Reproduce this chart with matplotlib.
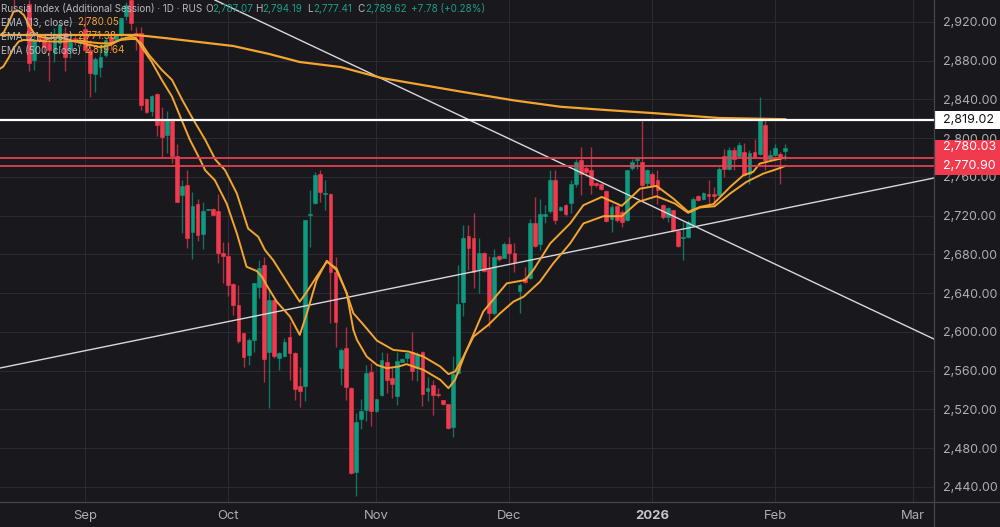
import numpy as np
import matplotlib
matplotlib.use('Agg')
from matplotlib import pyplot as plt
from matplotlib.patches import Rectangle
from matplotlib.transforms import blended_transform_factory

plt.rcParams['font.family'] = ['Inter', 'DejaVu Sans']

# daily bars (nan = bar not visible)
n = np.nan
opens = [n, n, 2952, n, n, 2939, 2881, 2903, 2903, 2898, 2889.5, 2898, 2908.4, 2891, 2903, 2898, 2912.5, 2891.2, 2866.5, 2874,
         2886, 2905, 2901.5, 2906.7, 2926, 2943, 2908.4, 2908.4, 2840.4, 2828.4, 2845.5, 2819, 2803.7, 2820, 2781.3, 2741.8, 2752.1, 2703, 2732.6, 2701,
         2726, 2727.4, 2724.7, 2681.8, 2678.3, 2649.5, 2628.2, 2598.7, 2576.4, 2591.5, 2646.7, 2669, 2579.8, 2633, 2572.9, 2574.7, 2594.6, 2578.4, 2543.8, 2543.8,
         2721.2, 2733.3, 2762.8, 2742.2, 2742.9, 2662.2, 2563.3, 2583.9, 2542, 2455.2, 2510.4, 2519.7, 2558.9, 2518, 2534.5, 2568.5, 2552, 2533.4, 2569.5, 2572.9,
         2579.1, 2563.3, 2579.8, 2538.6, 2545.5, 2536.2, 2529.3, 2525.5, 2501.5, 2557.5, 2630.6, 2698.9, 2696.5, 2664.9, 2681.8, 2665.6, 2620, 2678.7, 2676.6, 2690.7,
         2681.8, 2642.6, 2655.3, 2655.3, 2713, 2690.7, 2720.2, 2725, 2757.3, 2725.7, 2731.5, 2733.3, 2752.5, 2777.2, 2769.6, 2767.6, 2754.2, 2753.2, 2745.3, 2716.4,
         2729.8, 2724, 2715.4, 2769.6, 2777.9, 2775.5, 2753.9, 2763.5, 2756.6, 2731.5, 2718.8, 2725.7, 2704.4, 2696.5, 2698.2, 2710.3, 2740.1, 2737.7, 2742.2, 2742.9,
         2741.2, 2781.3, 2768.6, 2788.2, 2781.3, 2785.8, 2763.5, 2785.8, 2784, 2813.3, 2778.9, 2782.4, 2784, 2787.07]
highs = [n, n, 2955, n, n, 2942.7, 2908, 2906, 2908, 2903, 2913.5, 2918.7, 2915, 2908.4, 2908, 2903, 2925.5, 2901.5, 2884.3, 2896.4,
         2903, 2908.4, 2908, 2925.5, 2941, 2946, 2915, 2915, 2841.4, 2844.9, 2846.6, 2832, 2827.7, 2820.8, 2794.4, 2756.6, 2767, 2744.6, 2737.7, 2734.3,
         2727.4, 2728, 2742.9, 2692.4, 2693.1, 2650.2, 2648.5, 2599, 2593.5, 2651, 2674.2, 2677, 2643.3, 2634.7, 2579.8, 2593.5, 2610.7, 2579.8, 2564.3, 2716.1,
         2746.3, 2765.2, 2767, 2756.6, 2743.6, 2677.6, 2583.2, 2605.6, 2542.8, 2516.3, 2531.1, 2566, 2567.8, 2531, 2579.8, 2578.8, 2564.3, 2579.8, 2572.9, 2579.8,
         2599.7, 2579.8, 2580.5, 2554, 2550.6, 2542, 2530, 2525.5, 2574.7, 2669, 2710.3, 2710.3, 2723, 2696.5, 2682.8, 2678.3, 2685.2, 2679.4, 2693.1, 2698.2,
         2691.4, 2650.2, 2667.3, 2717.1, 2739.4, 2737, 2730.9, 2767, 2767, 2730, 2732.6, 2757.3, 2778.9, 2790.9, 2772, 2790.9, 2754.9, 2753.9, 2746.3, 2732.6,
         2730.9, 2725.7, 2767.6, 2778.9, 2780.6, 2819.4, 2768.6, 2765.2, 2766.9, 2732.6, 2729.1, 2726.4, 2705.1, 2713.7, 2715.4, 2739.4, 2741.2, 2744.6, 2756.6, 2749.7,
         2770.3, 2789.2, 2790.9, 2790.9, 2796.1, 2795, 2787.5, 2799.5, 2843, 2819, 2787.5, 2794.4, 2785.8, 2794.19]
lows = [n, n, 2932, n, n, 2869, 2870.6, 2899, 2888, 2858.6, 2879, 2894.6, 2869.6, 2882.6, 2896, 2895, 2889.5, 2842.5, 2847.3, 2863,
        2884.3, 2891, 2900.8, 2902, 2922, 2911.8, 2891.2, 2829.4, 2826, 2823.2, 2801.9, 2779.6, 2784.8, 2774.5, 2734, 2701.7, 2687.2, 2675.2, 2693.8, 2685.9,
        2725.7, 2720.8, 2671.5, 2650.2, 2637.1, 2617.6, 2588.4, 2564.3, 2566, 2579.1, 2634.7, 2547.9, 2521.4, 2572.9, 2560.9, 2574, 2550.6, 2530, 2522.5, 2528.3,
        2687.9, 2732.6, 2734.3, 2726.4, 2609, 2584.3, 2545.5, 2530, 2453.8, 2431.2, 2499.8, 2507.7, 2502.6, 2517, 2533.4, 2536.9, 2531.7, 2524.9, 2568.5, 2569.5,
        2550.6, 2549.9, 2523.8, 2528.3, 2514.6, 2532.8, 2524.5, 2500.1, 2491.6, 2556.8, 2616.9, 2663.9, 2645, 2639.9, 2662.2, 2605.5, 2617.6, 2673.5, 2675.9, 2670.8,
        2662.2, 2619.3, 2650.2, 2654.3, 2687.9, 2684.5, 2712.7, 2723, 2711.3, 2725, 2719.5, 2723, 2749.7, 2741.2, 2761, 2742.9, 2749.7, 2746.3, 2713.7, 2703.4,
        2713.7, 2708.5, 2714.7, 2766.9, 2768.6, 2736, 2749.7, 2741.2, 2732.6, 2717.1, 2713.7, 2703.4, 2687.3, 2674.2, 2696.5, 2708.5, 2735.2, 2736.7, 2730.9, 2730.9,
        2740.1, 2760, 2766.9, 2766.9, 2780.6, 2760.7, 2753.2, 2780, 2782.4, 2766.9, 2777.9, 2781.3, 2753.2, 2777.41]
closes = [n, n, 2946, n, n, 2877.5, 2901.5, 2901, 2894.6, 2891.2, 2901.5, 2917, 2884.3, 2899.8, 2899.8, 2900, 2891.2, 2867.2, 2881.6, 2883.6,
          2901.5, 2899.8, 2906.7, 2923.8, 2937.5, 2918.7, 2905.6, 2834.6, 2826.7, 2843.8, 2814, 2800.9, 2819, 2781.3, 2734.3, 2750.4, 2697.2, 2729.8, 2700.6, 2724.7,
          2726.7, 2721.2, 2681.8, 2678, 2648.8, 2628.2, 2591.1, 2574.3, 2591.8, 2650.9, 2666.3, 2572.2, 2633, 2574.7, 2578.4, 2589.4, 2578.4, 2541.3, 2538.6, 2716.1,
          2722.3, 2761.7, 2744.2, 2743.5, 2662.2, 2610.4, 2581, 2543.1, 2454.1, 2507, 2518, 2557.5, 2518, 2531, 2571.2, 2550.6, 2546.5, 2569.8, 2572.2, 2578,
          2560.2, 2577.4, 2536.2, 2542, 2535.2, 2534.8, 2525.2, 2500.5, 2556.8, 2628.9, 2696.5, 2686.2, 2662.2, 2681.8, 2663.2, 2620, 2677.6, 2674.9, 2690.7, 2681.1,
          2672.5, 2648.5, 2651.9, 2713, 2689, 2722.3, 2721.6, 2757.3, 2715.4, 2729.1, 2722.3, 2752.5, 2775.5, 2763.5, 2765, 2751.5, 2751.5, 2748, 2714.7, 2728.5,
          2716.1, 2713.7, 2766.9, 2775.5, 2778.9, 2751.5, 2766.9, 2752.1, 2747, 2718.8, 2728.1, 2705.1, 2689, 2698.2, 2713.7, 2737.7, 2736.7, 2743.6, 2740.1, 2740.1,
          2768.6, 2768.6, 2788.2, 2778.9, 2792.7, 2761.8, 2785.1, 2780.6, 2819.4, 2777.2, 2782.4, 2790.3, 2780.6, 2789.62]

# EMA lines, bar position / value pairs
ema13_x = [-1, 0, 1, 2, 3, 4, 5, 6, 7, 9, 11, 13, 15, 17, 19, 21, 23, 25, 26, 27, 29, 31, 33, 35, 36.5, 38.5, 39.5, 41.4, 43.7, 45.7, 47.6, 49.6, 50.6, 51.5,
           53.5, 56.1, 58, 59.4, 61.3, 63.3, 65.2, 67.2, 68.5, 69.2, 71.1, 73.1, 75, 77.3, 78.9, 82.2, 85.5, 87.1, 88.4, 90.4, 93.9, 96.6, 98.5, 102.1, 103.7, 107,
           110.9, 113.5, 117.1, 121, 122.9, 124.6, 127.8, 131.1, 134, 136.3, 138.9, 142.2, 144.8, 146.7, 148, 150.6, 153]
ema13_y = [2905.6, 2908.4, 2918.7, 2930.7, 2931.7, 2927.3, 2917, 2908.4, 2904.9, 2903.2, 2904.3, 2901.5, 2898.8, 2896.4, 2893.9, 2896.4, 2902.2, 2904.9, 2903.2, 2894.6,
           2879.2, 2860.3, 2843.1, 2817.4, 2798.5, 2777.9, 2766.9, 2756.6, 2732.6, 2701.7, 2667.3, 2662.9, 2657, 2648.5, 2631.3, 2615.8, 2597, 2619.3, 2653.6, 2673.5,
           2663.9, 2639.9, 2602.1, 2591.8, 2574.6, 2566, 2562.6, 2564.3, 2566.8, 2560.9, 2550.6, 2542, 2550.6, 2578.1, 2621, 2638.2, 2650.2, 2653.6, 2663.9, 2691.4,
           2712, 2730.9, 2739.4, 2730.2, 2739.4, 2748, 2750.8, 2737.7, 2724, 2729.1, 2731.9, 2749.7, 2761.8, 2765.2, 2773.8, 2777.2, 2780.05]
ema21_x = [-1, 0, 1, 2, 3, 4, 6, 9, 12, 15, 17, 19, 21, 23, 25, 26, 27, 28.5, 31, 33, 35, 37, 39.5, 41.5, 43.4, 45.7, 47.9, 49.9, 51.2, 52.8, 56.1, 58, 59.4, 61.3,
           63.3, 65.2, 67.2, 68.5, 70.5, 73.1, 76.3, 79.3, 82.2, 85.5, 87.1, 88.4, 89.7, 92, 94.9, 97.2, 99.8, 101.8, 105, 107.6, 110.9, 113.5, 117.4, 121, 124.2, 127.8,
           131.4, 134, 136.3, 139.2, 142.2, 145.4, 148.7, 151.3, 153]
ema21_y = [2870.6, 2874, 2882.6, 2892.9, 2899.8, 2901.5, 2900.8, 2899.8, 2899.8, 2900.8, 2899.1, 2898, 2898, 2901.5, 2902.5, 2902.2, 2898, 2886, 2870.6, 2860.3,
           2839.7, 2820.8, 2798.5, 2777.9, 2766.9, 2742.9, 2706.8, 2698.2, 2684.5, 2674.2, 2646.7, 2631.3, 2641.6, 2657, 2672.5, 2665.6, 2639.9, 2619.3, 2607.3, 2591.1,
           2581.5, 2579.8, 2574.6, 2564.3, 2556.5, 2559.2, 2571.2, 2595.2, 2607.3, 2619.3, 2631.3, 2636.4, 2651.9, 2670.8, 2691.4, 2712, 2719.5, 2719.5, 2734.3, 2740.1,
           2732.6, 2723, 2728.5, 2729.8, 2742.9, 2754.9, 2763.5, 2768, 2771.38]
ema500_x = [-1, 26, 32, 45, 52, 58, 66, 74, 90, 100, 109, 118, 127, 140, 153]
ema500_y = [2906.6, 2906.6, 2903.2, 2895.2, 2887, 2878.7, 2873.5, 2862.2, 2847.7, 2839, 2832.5, 2829.1, 2826, 2820.9, 2819.64]

# drawn lines
level_white = 2819.02
level_red = [2780.03, 2770.90]
fall_x = [41.4, 182.1]
fall_y = [2942.7, 2592.7]
rise_x = [-0.65, 182.1]
rise_y = [2562.8, 2758.95]

y_ticks = [2920, 2880, 2840, 2800, 2760, 2720, 2680, 2640, 2600, 2560, 2520, 2480, 2440]
month_pos = [16, 44, 73, 99, 127, 151, 178]
month_labels = ['Sep', 'Oct', 'Nov', 'Dec', '2026', 'Feb', 'Mar']

BG = '#18181d'
GRID = '#2a2a30'
BORDER = '#45454b'
UP = '#0f9a80'
DOWN = '#f23a4e'
ORANGE = '#f3a52f'
AXIS_TEXT = '#aeaeb3'

fig = plt.figure(figsize=(10, 5.27), dpi=100, facecolor=BG)
ax = fig.add_axes([0, 1 - 501.7 / 527, 0.934, 501.7 / 527], facecolor=BG)

idx = np.arange(len(opens))
o = np.array(opens, dtype=float)
h = np.array(highs, dtype=float)
l = np.array(lows, dtype=float)
c = np.array(closes, dtype=float)
colors = [UP if cl >= op else DOWN for op, cl in zip(o, c)]

ax.vlines(idx, l, h, colors=colors, linewidth=1, alpha=0.7, zorder=3)
ax.bar(idx, np.abs(c - o), bottom=np.minimum(o, c), width=0.74, color=colors, linewidth=0.4, edgecolor=colors, zorder=3.1)

ax.plot(rise_x, rise_y, color='#d8d8dc', lw=1, zorder=3.5)
ax.plot(fall_x, fall_y, color='#d8d8dc', lw=1, zorder=3.5)

ax.plot(ema13_x, ema13_y, color=ORANGE, lw=1.4, zorder=4)
ax.plot(ema21_x, ema21_y, color=ORANGE, lw=1.4, zorder=4)
ax.plot(ema500_x, ema500_y, color=ORANGE, lw=1.6, zorder=4)

ax.axhline(level_white, color='white', lw=1.6, zorder=4.5)
for v in level_red:
    ax.axhline(v, color='#e33f52', lw=1.3, zorder=4.5)

ax.set_xlim(-0.646, 182.1)
ax.set_ylim(2424.8, 2942.7)

ax.yaxis.tick_right()
ax.set_yticks(y_ticks)
ax.set_yticklabels(['{:,.2f}'.format(v) for v in y_ticks])
ax.set_xticks(month_pos)
ax.set_xticklabels(month_labels)
ax.tick_params(axis='both', length=0, colors=AXIS_TEXT)
ax.tick_params(axis='y', pad=6.5, labelsize=9)
ax.tick_params(axis='x', pad=6, labelsize=9.4)
ax.get_xticklabels()[4].set_fontweight('bold')
ax.get_xticklabels()[4].set_color('#c8c8cc')
ax.grid(True, color=GRID, lw=0.8, zorder=0)
ax.set_axisbelow(True)
for s in ax.spines.values():
    s.set_visible(False)

# frame runs on to the edge of the picture
fig.add_artist(plt.Line2D([0.934, 0.934], [0, 1], color=BORDER, lw=0.9))
fig.add_artist(plt.Line2D([0, 1], [1 - 501.7 / 527] * 2, color=BORDER, lw=0.9))

# price tags on the scale
tr = blended_transform_factory(ax.transAxes, ax.transData)
ax.add_patch(Rectangle((1, level_white - 9.5), 0.0707, 19, transform=tr, facecolor='white', edgecolor='none', clip_on=False, zorder=6))
ax.add_patch(Rectangle((1, 2762), 0.0707, 36.2, transform=tr, facecolor='#f23a4e', edgecolor='none', clip_on=False, zorder=6))
ax.annotate('{:,.2f}'.format(level_white), (1, level_white), xycoords=tr, xytext=(6.5, 0), textcoords='offset points',
            ha='left', va='center', color='#131317', fontsize=9, zorder=7, annotation_clip=False)
# the two red tags are pushed apart so the numbers do not collide
ax.annotate('{:,.2f}'.format(level_red[0]), (1, level_red[0]), xycoords=tr, xytext=(6.5, 7.4), textcoords='offset points',
            ha='left', va='center', color='white', fontsize=9, zorder=7, annotation_clip=False)
ax.annotate('{:,.2f}'.format(level_red[1]), (1, level_red[1]), xycoords=tr, xytext=(6.5, 0), textcoords='offset points',
            ha='left', va='center', color='white', fontsize=9, zorder=7, annotation_clip=False)


def px_text(x, y, s, color, **kw):
    fig.text(x / 1000, 1 - y / 527, s, color=color, fontsize=7.1, va='center', ha='left', zorder=10, **kw)


LEG = '#b9b9bd'
GREEN = '#1f9f86'
px_text(1, 9, 'Russia Index (Additional Session) · 1D · RUS', LEG)
px_text(205, 9, 'O', LEG)
px_text(212.5, 9, '2,787.07', GREEN)
px_text(255, 9, 'H', LEG)
px_text(262.5, 9, '2,794.19', GREEN)
px_text(307, 9, 'L', LEG)
px_text(313, 9, '2,777.41', GREEN)
px_text(357, 9, 'C', LEG)
px_text(365, 9, '2,789.62', GREEN)
px_text(411, 9, '+7.78 (+0.28%)', GREEN)
px_text(1, 22, 'EMA (13, close)', LEG)
px_text(77, 22, '2,780.05', ORANGE)
px_text(1, 36, 'EMA (21, close)', LEG)
px_text(77, 36, '2,771.38', ORANGE)
px_text(1, 50, 'EMA (500, close)', LEG)
px_text(84, 50, '2,819.64', ORANGE)

plt.savefig('out.png', dpi=100, facecolor=BG)
